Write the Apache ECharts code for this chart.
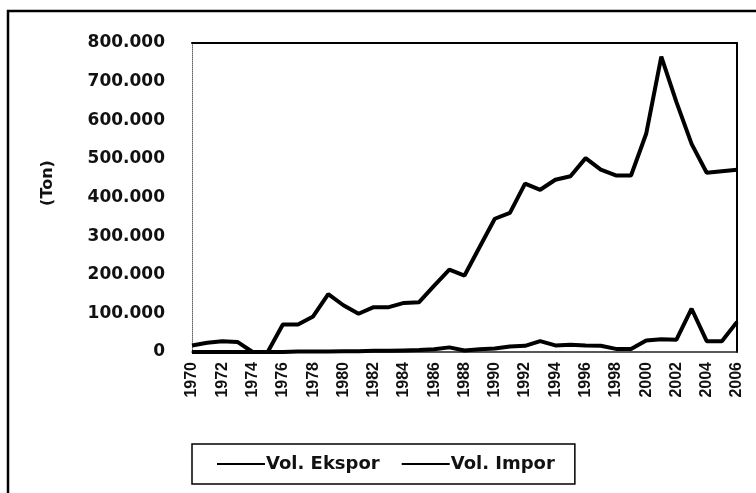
<!DOCTYPE html>
<html>
<head>
<meta charset="utf-8">
<script src="https://cdn.jsdelivr.net/npm/echarts@6/dist/echarts.min.js"></script>
<style>
  html, body { margin: 0; padding: 0; background: #fff; }
  #chart { width: 756px; height: 493px; }
</style>
</head>
<body>
<div id="chart"></div>
<script>
//数据
var years = [];
for (var y = 1970; y <= 2006; y++) { years.push(String(y)); }

var volImpor = [17000, 24000, 28000, 26000, 0, 0, 71000, 71000, 92000, 150000,
                121000, 99000, 116000, 116000, 127000, 129000, 172000, 213000, 198000, 272000,
                345000, 360000, 436000, 420000, 446000, 455000, 502000, 472000, 457000, 457000,
                565000, 765000, 647000, 539000, 464000, 468000, 472000];

var volEkspor = [0, 0, 0, 0, 0, 0, 0, 1000, 1000, 1000,
                 2000, 2000, 3000, 3000, 4000, 5000, 7000, 12000, 4000, 7000,
                 9000, 14000, 16000, 28000, 17000, 19000, 17000, 16000, 8000, 8000,
                 30000, 33000, 32000, 112000, 28000, 28000, 78000];

var yTicks = [0, 100000, 200000, 300000, 400000, 500000, 600000, 700000, 800000];

//千位分隔符用点
function fmt(v) {
    return String(v).replace(/\B(?=(\d{3})+(?!\d))/g, '.');
}

var myChart = echarts.init(document.getElementById('chart'));
var font = 'DejaVu Sans';

var option = {
    backgroundColor: '#fff',
    animation: false,
    grid: { left: 192, right: 19, top: 43, bottom: 141 },
    graphic: [
        {   // 外框
            type: 'rect',
            shape: { x: 8, y: 11, width: 800, height: 600 },
            style: { fill: 'none', stroke: '#000', lineWidth: 2.5 }
        },
        {
            type: 'text',
            x: 48, y: 183,
            rotation: Math.PI / 2,
            style: {
                text: '(Ton)',
                font: 'bold 16px "DejaVu Sans"',
                fill: '#111',
                textAlign: 'center',
                textVerticalAlign: 'middle'
            }
        }
    ],
    legend: {
        left: 192, top: 444,
        padding: [11, 20, 11, 25],
        itemGap: 22,
        itemWidth: 48,
        itemHeight: 2,
        icon: 'rect',
        borderColor: '#000',
        borderWidth: 1.5,
        textStyle: { fontFamily: font, fontWeight: 'bold', fontSize: 18, color: '#111', padding: [0, 0, 0, -4] },
        data: ['Vol. Ekspor', 'Vol. Impor']
    },
    xAxis: [
        {
            type: 'category',
            data: years,
            boundaryGap: false,
            axisLine: { show: true, lineStyle: { color: '#222', width: 1.5 } },
            axisTick: { show: false },
            axisLabel: {
                interval: 1,
                rotate: 90,
                margin: 10,
                fontFamily: 'Liberation Sans',
                fontWeight: 'bold',
                fontSize: 16,
                color: '#111'
            },
            splitLine: { show: false }
        },
        {
            type: 'category',
            data: years,
            position: 'top',
            boundaryGap: false,
            axisLine: { show: true, onZero: false, lineStyle: { color: '#000', width: 2 } },
            axisTick: { show: false },
            axisLabel: { show: false }
        }
    ],
    yAxis: [
        {
            type: 'value',
            min: yTicks[0],
            max: yTicks[yTicks.length - 1],
            interval: 100000,
            axisLine: { show: true, lineStyle: { color: '#666', width: 1, type: 'dotted' } },
            axisTick: { show: false },
            splitLine: { show: false },
            axisLabel: {
                margin: 27,
                fontFamily: font,
                fontWeight: 'bold',
                fontSize: 17,
                color: '#111',
                formatter: fmt
            }
        },
        {
            type: 'value',
            position: 'right',
            min: yTicks[0],
            max: yTicks[yTicks.length - 1],
            axisLine: { show: true, onZero: false, lineStyle: { color: '#000', width: 2 } },
            axisTick: { show: false },
            axisLabel: { show: false },
            splitLine: { show: false }
        }
    ],
    series: [
        {
            name: 'Vol. Ekspor',
            type: 'line',
            data: volEkspor,
            symbol: 'none',
            lineStyle: { color: '#000', width: 4 },
            itemStyle: { color: '#000' }
        },
        {
            name: 'Vol. Impor',
            type: 'line',
            data: volImpor,
            symbol: 'none',
            lineStyle: { color: '#000', width: 4 },
            itemStyle: { color: '#000' }
        }
    ]
};

myChart.setOption(option);
</script>
</body>
</html>
